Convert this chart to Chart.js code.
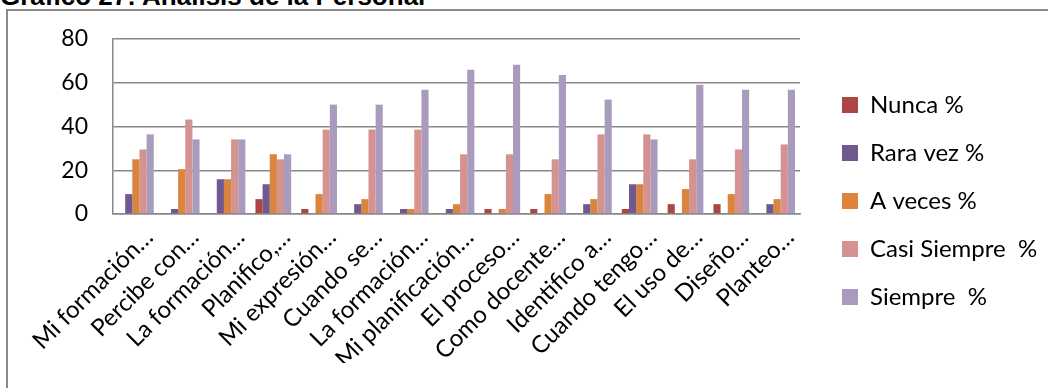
<!DOCTYPE html>
<html>
<head>
<meta charset="utf-8">
<script src="https://cdn.jsdelivr.net/npm/chart.js@4.4.1/dist/chart.umd.min.js"></script>
<style>
  html, body { margin: 0; padding: 0; background: #fff; width: 1048px; height: 388px; overflow: hidden; }
  #title { position: absolute; left: 0; top: -17px; font: bold 26px "Liberation Sans", Arial, sans-serif; line-height: 26px; white-space: nowrap; color: #000; }
  #frame { position: absolute; left: 6px; top: 9px; width: 1100px; height: 500px; border: 2px solid #8a8a8a; }
  #wrap { position: absolute; left: 0; top: 0; width: 1048px; height: 388px; }
</style>
</head>
<body>
<div id="title">Gráfico 27: Análisis de la Personal</div>
<div id="frame"></div>
<div id="wrap"><canvas id="chart" width="1048" height="388"></canvas></div>
<script>
// questions (shortened, as in the original sheet)
const categories = ['Mi formación…', 'Percibe con…', 'La formación…', 'Planifico,…', 'Mi expresión…',
  'Cuando se…', 'La formación…', 'Mi planificación…', 'El proceso…', 'Como docente…',
  'Identifico a…', 'Cuando tengo…', 'El uso de…', 'Diseño…', 'Planteo…'];

// percentages per answer
const nunca        = [0, 0, 0, 6.8, 2.3, 0, 0, 0, 2.3, 2.3, 0, 2.3, 4.5, 4.5, 0];
const raraVez      = [9.1, 2.3, 15.9, 13.6, 0, 4.5, 2.3, 2.3, 0, 0, 4.5, 13.6, 0, 0, 4.5];
const aVeces       = [25, 20.5, 15.9, 27.3, 9.1, 6.8, 2.3, 4.5, 2.3, 9.1, 6.8, 13.6, 11.4, 9.1, 6.8];
const casiSiempre  = [29.5, 43.2, 34.1, 25, 38.6, 38.6, 38.6, 27.3, 27.3, 25, 36.4, 36.4, 25, 29.5, 31.8];
const siempre      = [36.4, 34.1, 34.1, 27.3, 50, 50, 56.8, 65.9, 68.2, 63.6, 52.3, 34.1, 59.1, 56.8, 56.8];

const yTicks = [0, 20, 40, 60, 80];

const seriesNames = ['Nunca %', 'Rara vez %', 'A veces %', 'Casi Siempre  %', 'Siempre  %'];
const seriesColors = ['#AA4643', '#71588F', '#DB843D', '#D49391', '#A99BBD'];
const seriesData = [nunca, raraVez, aVeces, casiSiempre, siempre];

const font = { family: 'Lato', size: 23 };
const bigFont = { family: 'Lato', size: 24 };
const gridColor = '#888888';

let ctx = document.getElementById('chart').getContext('2d');
let myChart = new Chart(ctx, {
    type: 'bar',
    data: {
        labels: categories,
        datasets: seriesData.map((d, i) => ({
            label: seriesNames[i],
            data: d,
            backgroundColor: seriesColors[i],
            borderWidth: 0,
            categoryPercentage: 0.78,
            barPercentage: 1
        }))
    },
    options: {
        responsive: false,
        animation: false,
        devicePixelRatio: 1,
        layout: { padding: { left: 0, top: 39, right: 10, bottom: 25 } },
        scales: {
            x: {
                grid: { display: false, drawTicks: false },
                border: { color: gridColor, width: 1.5 },
                ticks: {
                    autoSkip: false,
                    minRotation: 45,
                    maxRotation: 45,
                    padding: 9,
                    labelOffset: 13,
                    color: '#000',
                    font: bigFont
                },
                afterFit: s => { s.height = 149; }
            },
            y: {
                min: 0,
                max: 80,
                afterBuildTicks: s => { s.ticks = yTicks.map(v => ({ value: v })); },
                grid: { color: gridColor, lineWidth: 1.5, drawTicks: false },
                border: { color: gridColor, width: 1.5 },
                ticks: { padding: 25, color: '#000', font: font },
                afterFit: s => { s.width = 113; }
            },
            // empty spacer between the plot and the legend
            gap: {
                position: 'right',
                grid: { display: false, drawTicks: false },
                border: { display: false },
                ticks: { display: false },
                afterFit: s => { s.width = 18; }
            }
        },
        plugins: {
            legend: {
                position: 'right',
                maxWidth: 220,
                labels: { boxWidth: 16, boxHeight: 16, padding: 24, color: '#000', font: bigFont }
            },
            tooltip: { enabled: false }
        }
    }
});
</script>
</body>
</html>
